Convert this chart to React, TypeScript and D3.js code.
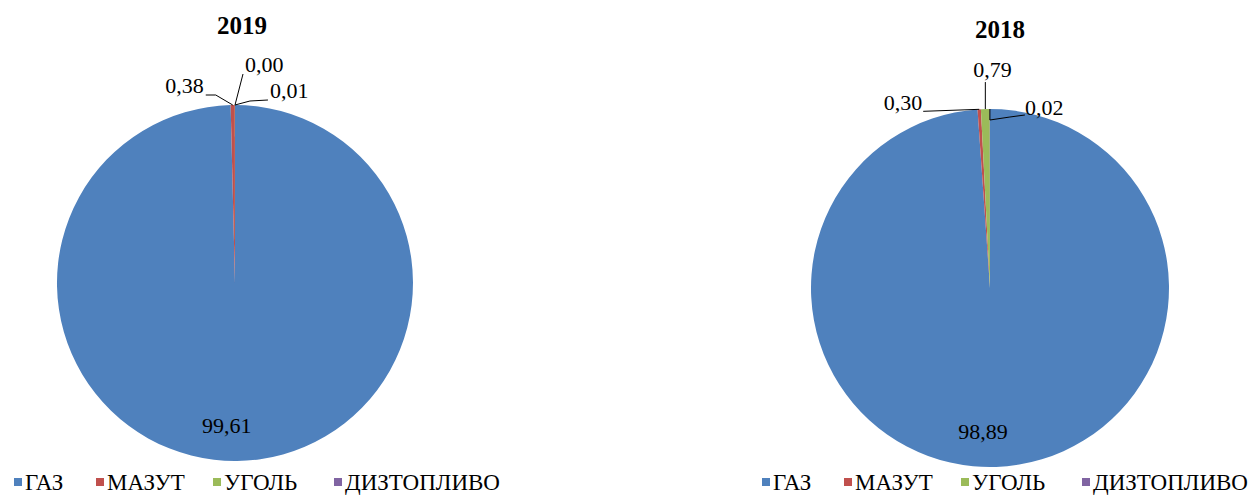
import React from "react";
import * as d3 from "d3";

const categories = ["ГАЗ", "МАЗУТ", "УГОЛЬ", "ДИЗТОПЛИВО"];
const values2019 = [99.61, 0.38, 0.01, 0.0];
const values2018 = [98.89, 0.3, 0.79, 0.02];
const labels2019 = ["99,61", "0,38", "0,01", "0,00"];
const labels2018 = ["98,89", "0,30", "0,79", "0,02"];
const titles = ["2019", "2018"];
const colors = ["#4F81BD", "#C0504D", "#9BBB59", "#8064A2"];

const FONT = "'Liberation Serif', 'Times New Roman', serif";

type LabelLayout = {
  tx: number; // text offset from anchor
  ty: number;
  anchor: "start" | "end" | "middle";
  path: [number, number][]; // leader points relative to anchor (excluding anchor)
};

// layout for small-slice labels, offsets relative to the slice's outer mid point
const layout2019: (LabelLayout | null)[] = [
  null,
  { tx: -29, ty: -12, anchor: "end", path: [[-17, -10], [-27, -10]] },
  { tx: 35, ty: -7, anchor: "start", path: [[15, -4], [33, -5]] },
  { tx: 10, ty: -33, anchor: "start", path: [[8, -31]] },
];
const layout2018: (LabelLayout | null)[] = [
  null,
  { tx: -57, ty: 1, anchor: "end", path: [[-56, 2]] },
  { tx: -12, ty: -32, anchor: "start", path: [[0, -27]] },
  { tx: 35, ty: 6, anchor: "start", path: [[0, 11], [20, 8], [35, 6]] },
];

function Pie({
  cx, cy, r, values, labels, layout, title, titleX, titleY, bigDx,
}: {
  cx: number; cy: number; r: number; values: number[]; labels: string[];
  layout: (LabelLayout | null)[]; title: string; titleX: number; titleY: number; bigDx: number;
}) {
  const pie = d3.pie<number>().sort(null).value((d) => d).startAngle(0).endAngle(2 * Math.PI);
  const arcs = pie(values);
  const arc = d3.arc<d3.PieArcDatum<number>>().innerRadius(0).outerRadius(r);
  const labelArc = d3.arc<d3.PieArcDatum<number>>().innerRadius(r * 0.8).outerRadius(r * 0.8);
  return (
    <g>
      <text x={titleX} y={titleY} textAnchor="middle" fontFamily={FONT} fontWeight="bold" fontSize={25} fill="#000">
        {title}
      </text>
      <g transform={`translate(${cx},${cy})`}>
        {arcs.map((a, i) => (
          <path key={i} d={arc(a) || ""} fill={colors[i]} />
        ))}
        {arcs.map((a, i) => {
          const L = layout[i];
          if (!L) {
            const [x, y] = labelArc.centroid(a);
            return (
              <text key={"l" + i} x={x + bigDx} y={y + 8} textAnchor="middle" fontFamily={FONT} fontSize={22} fill="#000">
                {labels[i]}
              </text>
            );
          }
          const mid = (a.startAngle + a.endAngle) / 2;
          const ax = Math.sin(mid) * r;
          const ay = -Math.cos(mid) * r;
          const pts = [[ax, ay], ...L.path.map(([dx, dy]) => [ax + dx, ay + dy])];
          return (
            <g key={"l" + i}>
              <polyline points={pts.map((p) => p.join(",")).join(" ")} fill="none" stroke="#000" strokeWidth={1} />
              <text x={ax + L.tx} y={ay + L.ty} textAnchor={L.anchor} fontFamily={FONT} fontSize={22} fill="#000">
                {labels[i]}
              </text>
            </g>
          );
        })}
      </g>
    </g>
  );
}

const legendOffsets = [0, 82, 199, 320];

function Legend({ x, y }: { x: number; y: number }) {
  return (
    <g transform={`translate(${x},${y})`}>
      {categories.map((c, i) => (
        <g key={c} transform={`translate(${legendOffsets[i]},0)`}>
          <rect x={0} y={-12} width={8} height={8} fill={colors[i]} />
          <text x={11} y={0} fontFamily={FONT} fontSize={23} fill="#000">
            {c}
          </text>
        </g>
      ))}
    </g>
  );
}

export default function App() {
  return (
    <svg width={1252} height={495} style={{ position: "absolute", left: 0, top: 0 }}>
      <rect width={1252} height={495} fill="#fff" />
      <Pie cx={235} cy={283} r={178} values={values2019} labels={labels2019} layout={layout2019}
        title={titles[0]} titleX={242} titleY={34} bigDx={-10} />
      <Pie cx={990} cy={288} r={179} values={values2018} labels={labels2018} layout={layout2018}
        title={titles[1]} titleX={1000} titleY={38} bigDx={-12} />
      <Legend x={14} y={490} />
      <Legend x={762} y={490} />
    </svg>
  );
}
